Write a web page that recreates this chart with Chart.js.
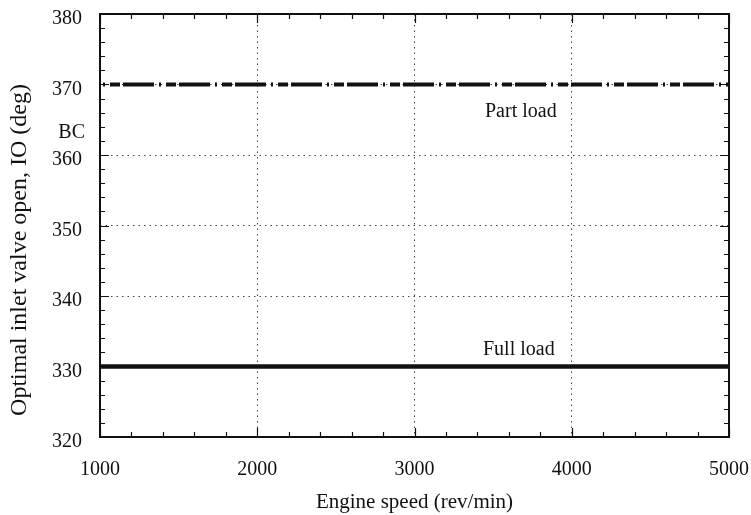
<!DOCTYPE html>
<html>
<head>
<meta charset="utf-8">
<script src="https://cdn.jsdelivr.net/npm/chart.js@4.4.1/dist/chart.umd.min.js"></script>
<style>
  html, body { margin: 0; padding: 0; background: #fff; }
  canvas { display: block; }
</style>
</head>
<body>
<canvas id="c" width="751" height="515"></canvas>
<script>
// ---- data ----
const engineSpeed = [1000, 2000, 3000, 4000, 5000];
const partLoad = [370, 370, 370, 370, 370];
const fullLoad = [330, 330, 330, 330, 330];
const xTicks = [1000, 2000, 3000, 4000, 5000];
const yTicks = [320, 330, 340, 350, 360, 370, 380];
const xTitle = 'Engine speed (rev/min)';
const yTitle = 'Optimal inlet valve open, IO (deg)';
const partLabel = 'Part load';
const fullLabel = 'Full load';
const bcLabel = 'BC';

const FONT = "'Liberation Serif', 'DejaVu Serif', serif";
const INK = '#111';

const decor = {
  id: 'decor',
  afterDraw(chart) {
    const { ctx, chartArea: a, scales: { x, y } } = chart;
    ctx.save();
    // frame
    ctx.strokeStyle = INK;
    ctx.lineWidth = 2;
    ctx.strokeRect(a.left, a.top, a.right - a.left, a.bottom - a.top);
    // inward ticks (major + minor)
    ctx.lineWidth = 1.2;
    ctx.beginPath();
    for (let v = x.min; v <= x.max + 1e-6; v += 200) {
      const px = Math.round(x.getPixelForValue(v)) + 0.5;
      const L = (v % 1000 === 0) ? 9 : 5;
      ctx.moveTo(px, a.bottom); ctx.lineTo(px, a.bottom - L);
      ctx.moveTo(px, a.top); ctx.lineTo(px, a.top + L);
    }
    for (let v = y.min; v <= y.max + 1e-6; v += 2) {
      const py = Math.round(y.getPixelForValue(v)) + 0.5;
      const L = (v % 10 === 0) ? 9 : 5;
      ctx.moveTo(a.left, py); ctx.lineTo(a.left + L, py);
      ctx.moveTo(a.right, py); ctx.lineTo(a.right - L, py);
    }
    ctx.stroke();
    // texts
    ctx.fillStyle = INK;
    ctx.textBaseline = 'alphabetic';
    ctx.font = '20px ' + FONT;
    ctx.textAlign = 'left';
    ctx.fillText(partLabel, 485, 117);
    ctx.fillText(fullLabel, 483, 355);
    ctx.textAlign = 'right';
    ctx.fillText(bcLabel, 85, 138);
    // y title
    ctx.save();
    ctx.translate(20, 250);
    ctx.rotate(-Math.PI / 2);
    ctx.textAlign = 'center';
    ctx.textBaseline = 'middle';
    ctx.font = '24px ' + FONT;
    ctx.fillText(yTitle, 0, 0);
    ctx.restore();
    ctx.restore();
  }
};

const gridColor = (c) => {
  const v = c.tick && c.tick.value;
  const edge = (c.scale.axis === 'x') ? (v === 1000 || v === 5000) : (v === 320 || v === 380);
  return edge ? 'rgba(0,0,0,0)' : '#444';
};

new Chart(document.getElementById('c'), {
  type: 'line',
  data: {
    datasets: [
      {
        label: partLabel,
        data: engineSpeed.map((s, i) => ({ x: s, y: partLoad[i] })),
        borderColor: INK,
        borderWidth: 4,
        borderDash: [10, 3, 31, 5, 2, 5],
        borderDashOffset: 46,
        pointRadius: 0,
        fill: false,
        tension: 0
      },
      {
        label: fullLabel,
        data: engineSpeed.map((s, i) => ({ x: s, y: fullLoad[i] })),
        borderColor: INK,
        borderWidth: 4.5,
        pointRadius: 0,
        fill: false,
        tension: 0
      }
    ]
  },
  options: {
    responsive: false,
    animation: false,
    events: [],
    layout: { padding: { top: 14, right: 22, left: 0, bottom: 0 } },
    plugins: { legend: { display: false }, tooltip: { enabled: false }, title: { display: false } },
    scales: {
      x: {
        type: 'linear',
        min: 1000, max: 5000,
        afterBuildTicks: (s) => { s.ticks = xTicks.map(v => ({ value: v })); },
        afterFit: (s) => { s.height = 78; s.paddingLeft = 0; s.paddingRight = 0; },
        border: { display: false, dash: [1.5, 4] },
        grid: { color: gridColor, lineWidth: 1, drawTicks: false },
        ticks: {
          padding: 21,
          color: INK,
          font: { family: FONT, size: 20 },
          maxRotation: 0,
          autoSkip: false,
          callback: (v) => String(v)
        },
        title: {
          display: true,
          text: xTitle,
          color: INK,
          font: { family: FONT, size: 21 },
          padding: { top: 0, bottom: 0 }
        }
      },
      y: {
        type: 'linear',
        min: 320, max: 380,
        afterBuildTicks: (s) => { s.ticks = yTicks.map(v => ({ value: v })); },
        afterFit: (s) => { s.width = 100; s.paddingTop = 0; s.paddingBottom = 0; },
        border: { display: false, dash: [1.5, 4] },
        grid: { color: gridColor, lineWidth: 1, drawTicks: false },
        ticks: {
          padding: 18,
          labelOffset: 5,
          color: INK,
          font: { family: FONT, size: 20 },
          autoSkip: false,
          callback: (v) => String(v)
        }
      }
    }
  },
  plugins: [decor]
});
</script>
</body>
</html>
